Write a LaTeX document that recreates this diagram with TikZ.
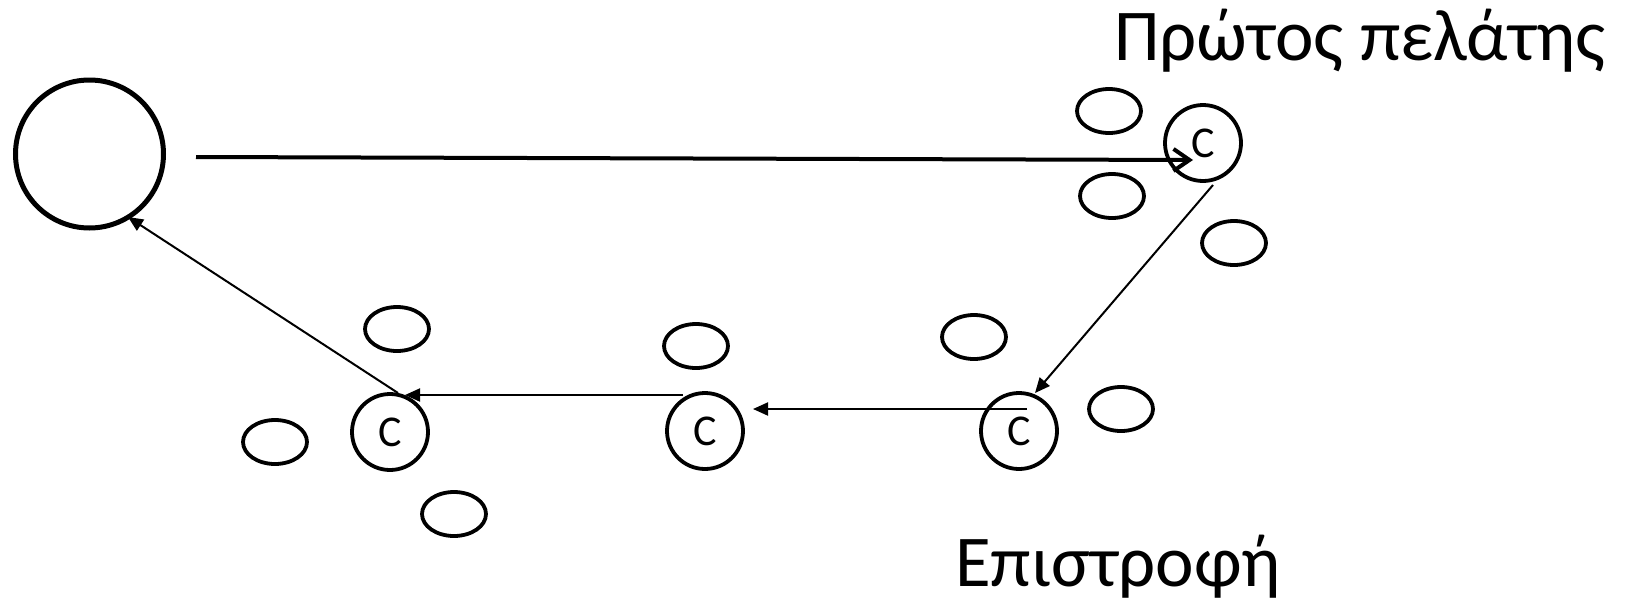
\documentclass[tikz,border=0pt]{standalone}
\usepackage{fontspec}
\setmainfont{Carlito}
\usetikzlibrary{arrows.meta,shapes.geometric}
\begin{document}
\begin{tikzpicture}[x=1pt,y=-1pt,
  depotnode/.style={circle,draw,line width=5pt,minimum size=148pt,inner sep=0pt},
  cust/.style={circle,draw,line width=3.8pt,minimum size=76pt,inner sep=0pt,font=\fontsize{44}{50}\selectfont},
  spot/.style={ellipse,draw,line width=3.8pt,minimum width=64pt,minimum height=44pt,inner sep=0pt},
  txt/.style={inner sep=0pt,anchor=base west,font=\fontsize{73}{86}\selectfont},
  thinarrow/.style={line width=2pt,-{Triangle[length=15pt,width=13pt]}},
  boldarrow/.style={line width=4pt,-{Straight Barb[length=16pt,width=22pt]}}
]
\useasboundingbox (0,0) rectangle (1628,600);
% depot
\node[depotnode] (depot) at (89.5,154) {};
% customers
\node[cust] (c1) at (1203,143) {C};
\node[cust] (c4) at (1019,431) {C};
\node[cust] (c2) at (705,431) {C};
\node[cust] (c3) at (390,432) {C};
% other spots
\node[spot] (e1) at (1109,111) {};
\node[spot] (e2) at (1112,196) {};
\node[spot] (e3) at (1234,243) {};
\node[spot] (e4) at (974,337) {};
\node[spot] (e5) at (1121,409) {};
\node[spot] (e6) at (696,346) {};
\node[spot] (e7) at (397,329) {};
\node[spot] (e8) at (275,442) {};
\node[spot] (e9) at (454,514) {};
% labels
\node[txt] (title) at (1114,60) {Πρώτος πελάτης};
\node[txt] (ret) at (955,586) {Επιστροφή};
% route
\draw[boldarrow] ([shift={(30,3)}]depot.east) -- ([shift={(-10,17)}]c1.center);
\draw[thinarrow] ([shift={(10,42)}]c1.center) -- ([shift={(16,-38)}]c4.center);
\draw[thinarrow] ([shift={(8,-22)}]c4.center) -- ([shift={(48,-22)}]c2.center);
\draw[thinarrow] ([shift={(-22,-36)}]c2.center) -- ([shift={(15,-37)}]c3.center);
\draw[thinarrow] ([shift={(8,-39)}]c3.center) -- ([shift={(38.5,63)}]depot.center);
\end{tikzpicture}
\end{document}
